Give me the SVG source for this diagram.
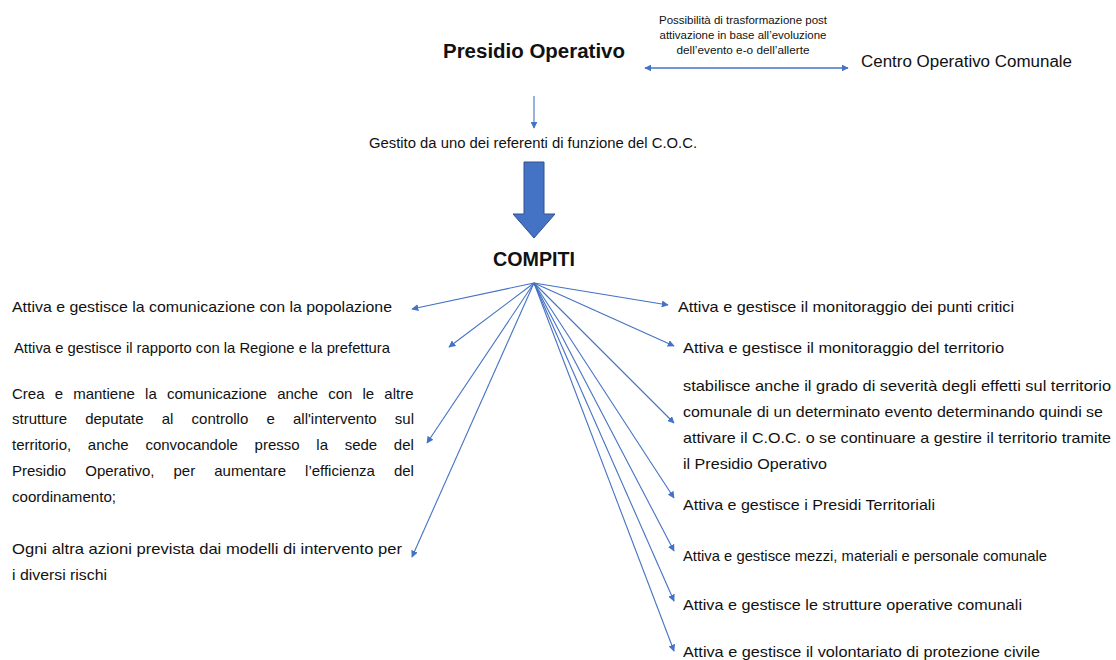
<svg xmlns="http://www.w3.org/2000/svg" width="1116" height="660" viewBox="0 0 1116 660">
<style>
text{font-family:"Liberation Sans","Noto Sans",sans-serif;fill:#111;}
.t{font-size:15px;}
.g{font-size:14px;}
.b{font-size:20px;font-weight:bold;}
.s{font-size:10.5px;}
.c{stroke:#4472C4;stroke-width:1.1;fill:none;marker-end:url(#ah);}
</style>
<defs>
<marker id="ah" viewBox="0 0 10 10" refX="9" refY="5" markerWidth="7" markerHeight="7" orient="auto" markerUnits="userSpaceOnUse">
<path d="M0,0 L10,5 L0,10 z" fill="#4472C4"/>
</marker>
<marker id="ahs" viewBox="0 0 10 10" refX="1" refY="5" markerWidth="7" markerHeight="7" orient="auto" markerUnits="userSpaceOnUse">
<path d="M10,0 L0,5 L10,10 z" fill="#4472C4"/>
</marker>
</defs>
<rect width="1116" height="660" fill="#fff"/>

<g id="presidio"><text class="b" x="534" y="58" text-anchor="middle" textLength="182" lengthAdjust="spacingAndGlyphs">Presidio Operativo</text></g>
<g id="nota">
<text class="s" x="743" y="24" text-anchor="middle" textLength="168" lengthAdjust="spacingAndGlyphs">Possibilità di trasformazione post</text>
<text class="s" x="743" y="39" text-anchor="middle" textLength="167" lengthAdjust="spacingAndGlyphs">attivazione in base all’evoluzione</text>
<text class="s" x="743" y="54" text-anchor="middle" textLength="133" lengthAdjust="spacingAndGlyphs">dell’evento e-o dell’allerte</text>
</g>
<g id="coc"><text x="861" y="67" style="font-size:16px" textLength="211" lengthAdjust="spacingAndGlyphs">Centro Operativo Comunale</text></g>
<g id="gestito"><text class="g" x="369" y="148" textLength="328" lengthAdjust="spacingAndGlyphs">Gestito da uno dei referenti di funzione del C.O.C.</text></g>
<g id="freccia"><path d="M524,162 H544 V214 H555 L534,238 L513,214 H524 Z" fill="#4472C4" stroke="#2F528F" stroke-width="1"/></g>
<g id="compiti"><text class="b" x="534" y="266" text-anchor="middle" textLength="82" lengthAdjust="spacingAndGlyphs">COMPITI</text></g>

<g id="l1"><text class="t" x="12" y="312" textLength="380" lengthAdjust="spacingAndGlyphs">Attiva e gestisce la comunicazione con la popolazione</text></g>
<g id="l2"><text class="t" x="14" y="353" textLength="376" lengthAdjust="spacingAndGlyphs">Attiva e gestisce il rapporto con la Regione e la prefettura</text></g>
<g id="l3">
<text class="t" x="12" y="399" word-spacing="6">Crea e mantiene la comunicazione anche con le altre</text>
<text class="t" x="12" y="424" word-spacing="14">strutture deputate al controllo e all'intervento sul</text>
<text class="t" x="12" y="450" word-spacing="12.5">territorio, anche convocandole presso la sede del</text>
<text class="t" x="12" y="476" word-spacing="14.9">Presidio Operativo, per aumentare l’efficienza del</text>
<text class="t" x="12" y="502" textLength="104" lengthAdjust="spacingAndGlyphs">coordinamento;</text>
</g>
<g id="l4">
<text class="t" x="12" y="554" textLength="390" lengthAdjust="spacingAndGlyphs">Ogni altra azioni prevista dai modelli di intervento per</text>
<text class="t" x="12" y="580" textLength="95" lengthAdjust="spacingAndGlyphs">i diversi rischi</text>
</g>

<g id="r1"><text class="t" x="678" y="312" textLength="336" lengthAdjust="spacingAndGlyphs">Attiva e gestisce il monitoraggio dei punti critici</text></g>
<g id="r2"><text class="t" x="683" y="353" textLength="321" lengthAdjust="spacingAndGlyphs">Attiva e gestisce il monitoraggio del territorio</text></g>
<g id="r3">
<text class="t" x="683" y="391" textLength="428" lengthAdjust="spacingAndGlyphs">stabilisce anche il grado di severità degli effetti sul territorio</text>
<text class="t" x="683" y="417" textLength="420" lengthAdjust="spacingAndGlyphs">comunale di un determinato evento determinando quindi se</text>
<text class="t" x="683" y="443" textLength="428" lengthAdjust="spacingAndGlyphs">attivare il C.O.C. o se continuare a gestire il territorio tramite</text>
<text class="t" x="683" y="469" textLength="144" lengthAdjust="spacingAndGlyphs">il Presidio Operativo</text>
</g>
<g id="r4"><text class="t" x="683" y="510" textLength="252" lengthAdjust="spacingAndGlyphs">Attiva e gestisce i Presidi Territoriali</text></g>
<g id="r5"><text class="t" x="683" y="561" textLength="364" lengthAdjust="spacingAndGlyphs">Attiva e gestisce mezzi, materiali e personale comunale</text></g>
<g id="r6"><text class="t" x="683" y="610" textLength="339" lengthAdjust="spacingAndGlyphs">Attiva e gestisce le strutture operative comunali</text></g>
<g id="r7"><text class="t" x="683" y="657" textLength="357" lengthAdjust="spacingAndGlyphs">Attiva e gestisce il volontariato di protezione civile</text></g>

<g id="connectors">
<line x1="645" y1="68" x2="848" y2="68" class="c" style="marker-start:url(#ahs);stroke-width:1.4"/>
<line x1="534" y1="96" x2="534" y2="128" class="c"/>
<line x1="534" y1="283" x2="412" y2="309" class="c"/>
<line x1="534" y1="283" x2="449" y2="347" class="c"/>
<line x1="534" y1="283" x2="427" y2="443" class="c"/>
<line x1="534" y1="283" x2="412" y2="557" class="c"/>
<line x1="534" y1="283" x2="668" y2="305" class="c"/>
<line x1="534" y1="283" x2="674" y2="346" class="c"/>
<line x1="534" y1="283" x2="674" y2="423" class="c"/>
<line x1="534" y1="283" x2="674" y2="498" class="c"/>
<line x1="534" y1="283" x2="674" y2="551" class="c"/>
<line x1="534" y1="283" x2="674" y2="601" class="c"/>
<line x1="534" y1="283" x2="674" y2="651" class="c"/>
</g>
</svg>
